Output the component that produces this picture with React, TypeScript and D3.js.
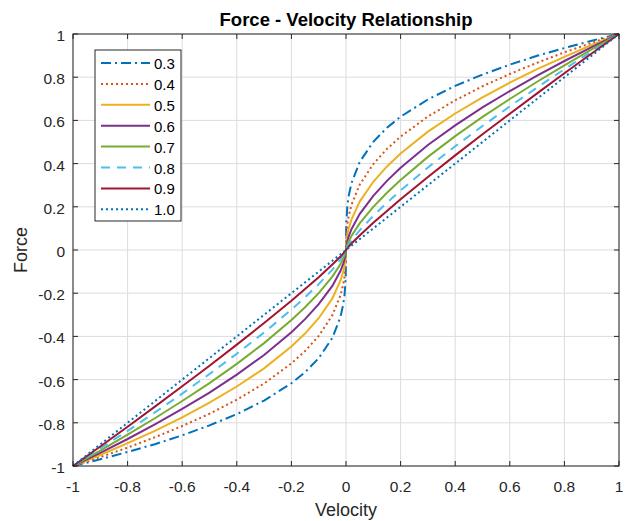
import React, { useEffect } from "react";
import * as d3 from "d3";

// velocity samples (denser near zero where the curves turn steep)
const velocity = [
  -1, -0.9, -0.8, -0.7, -0.6, -0.5, -0.4, -0.3, -0.2, -0.15, -0.1, -0.05, -0.02, -0.01, -0.005, -0.001,
  0,
  0.001, 0.005, 0.01, 0.02, 0.05, 0.1, 0.15, 0.2, 0.3, 0.4, 0.5, 0.6, 0.7, 0.8, 0.9, 1,
];

const force03 = [
  -1, -0.969, -0.935, -0.899, -0.858, -0.812, -0.76, -0.697, -0.617, -0.566, -0.501, -0.407, -0.309, -0.251, -0.204, -0.126,
  0,
  0.126, 0.204, 0.251, 0.309, 0.407, 0.501, 0.566, 0.617, 0.697, 0.76, 0.812, 0.858, 0.899, 0.935, 0.969, 1,
];
const force04 = [
  -1, -0.959, -0.915, -0.867, -0.815, -0.758, -0.693, -0.618, -0.525, -0.468, -0.398, -0.302, -0.209, -0.158, -0.12, -0.063,
  0,
  0.063, 0.12, 0.158, 0.209, 0.302, 0.398, 0.468, 0.525, 0.618, 0.693, 0.758, 0.815, 0.867, 0.915, 0.959, 1,
];
const force05 = [
  -1, -0.949, -0.894, -0.837, -0.775, -0.707, -0.632, -0.548, -0.447, -0.387, -0.316, -0.224, -0.141, -0.1, -0.071, -0.032,
  0,
  0.032, 0.071, 0.1, 0.141, 0.224, 0.316, 0.387, 0.447, 0.548, 0.632, 0.707, 0.775, 0.837, 0.894, 0.949, 1,
];
const force06 = [
  -1, -0.939, -0.875, -0.807, -0.736, -0.66, -0.577, -0.486, -0.381, -0.32, -0.251, -0.166, -0.096, -0.063, -0.042, -0.016,
  0,
  0.016, 0.042, 0.063, 0.096, 0.166, 0.251, 0.32, 0.381, 0.486, 0.577, 0.66, 0.736, 0.807, 0.875, 0.939, 1,
];
const force07 = [
  -1, -0.929, -0.855, -0.779, -0.699, -0.616, -0.527, -0.431, -0.324, -0.265, -0.2, -0.123, -0.065, -0.04, -0.024, -0.008,
  0,
  0.008, 0.024, 0.04, 0.065, 0.123, 0.2, 0.265, 0.324, 0.431, 0.527, 0.616, 0.699, 0.779, 0.855, 0.929, 1,
];
const force08 = [
  -1, -0.919, -0.837, -0.752, -0.665, -0.574, -0.48, -0.382, -0.276, -0.219, -0.158, -0.091, -0.044, -0.025, -0.014, -0.004,
  0,
  0.004, 0.014, 0.025, 0.044, 0.091, 0.158, 0.219, 0.276, 0.382, 0.48, 0.574, 0.665, 0.752, 0.837, 0.919, 1,
];
const force09 = [
  -1, -0.91, -0.818, -0.725, -0.631, -0.536, -0.438, -0.338, -0.235, -0.181, -0.126, -0.067, -0.03, -0.016, -0.008, -0.002,
  0,
  0.002, 0.008, 0.016, 0.03, 0.067, 0.126, 0.181, 0.235, 0.338, 0.438, 0.536, 0.631, 0.725, 0.818, 0.91, 1,
];
const force10 = [
  -1, -0.9, -0.8, -0.7, -0.6, -0.5, -0.4, -0.3, -0.2, -0.15, -0.1, -0.05, -0.02, -0.01, -0.005, -0.001,
  0,
  0.001, 0.005, 0.01, 0.02, 0.05, 0.1, 0.15, 0.2, 0.3, 0.4, 0.5, 0.6, 0.7, 0.8, 0.9, 1,
];

const seriesNames = ["0.3", "0.4", "0.5", "0.6", "0.7", "0.8", "0.9", "1.0"];
const seriesValues = [force03, force04, force05, force06, force07, force08, force09, force10];
const seriesColors = ["#0072BD", "#D95319", "#EDB120", "#7E2F8E", "#77AC30", "#4DBEEE", "#A2142F", "#0072BD"];
const seriesDashes = ["10,4,2,4", "2,3", "none", "none", "none", "9,7", "none", "2,3"];

const xTicks = [-1, -0.8, -0.6, -0.4, -0.2, 0, 0.2, 0.4, 0.6, 0.8, 1];
const yTicks = [-1, -0.8, -0.6, -0.4, -0.2, 0, 0.2, 0.4, 0.6, 0.8, 1];

const width = 627;
const height = 521;
const margin = { top: 34, right: 8, bottom: 55, left: 73 };
const font = "Arial, 'Liberation Sans', sans-serif";
const textColor = "#262626";

export default function App() {
  useEffect(() => {
    document.body.style.margin = "0";
  }, []);

  const x = d3.scaleLinear().domain([-1, 1]).range([margin.left, width - margin.right]);
  const y = d3.scaleLinear().domain([-1, 1]).range([height - margin.bottom, margin.top]);

  const line = d3
    .line<number>()
    .x((_, i) => x(velocity[i]))
    .y((d) => y(d));

  const x0 = x(-1);
  const x1 = x(1);
  const y0 = y(-1);
  const y1 = y(1);
  const tickLen = 5;

  return (
    <svg width={width} height={height} style={{ display: "block", background: "#fff" }} fontFamily={font}>
      {/* grid */}
      <g stroke="#dcdcdc" strokeWidth={1}>
        {xTicks.map((t) => (
          <line key={"gx" + t} x1={x(t)} x2={x(t)} y1={y1} y2={y0} />
        ))}
        {yTicks.map((t) => (
          <line key={"gy" + t} x1={x0} x2={x1} y1={y(t)} y2={y(t)} />
        ))}
      </g>

      {/* curves */}
      <g fill="none" strokeWidth={2}>
        {seriesValues.map((vals, i) => (
          <path
            key={seriesNames[i]}
            d={line(vals) ?? ""}
            stroke={seriesColors[i]}
            strokeDasharray={seriesDashes[i]}
          />
        ))}
      </g>

      {/* axes box + ticks */}
      <rect x={x0} y={y1} width={x1 - x0} height={y0 - y1} fill="none" stroke={textColor} strokeWidth={1} />
      <g stroke={textColor} strokeWidth={1}>
        {xTicks.map((t) => (
          <g key={"tx" + t}>
            <line x1={x(t)} x2={x(t)} y1={y0} y2={y0 - tickLen} />
            <line x1={x(t)} x2={x(t)} y1={y1} y2={y1 + tickLen} />
          </g>
        ))}
        {yTicks.map((t) => (
          <g key={"ty" + t}>
            <line x1={x0} x2={x0 + tickLen} y1={y(t)} y2={y(t)} />
            <line x1={x1} x2={x1 - tickLen} y1={y(t)} y2={y(t)} />
          </g>
        ))}
      </g>
      <g fill={textColor} fontSize={15.5}>
        {xTicks.map((t) => (
          <text key={"lx" + t} x={x(t)} y={y0 + 25.5} textAnchor="middle">
            {t}
          </text>
        ))}
        {yTicks.map((t) => (
          <text key={"ly" + t} x={x0 - 8} y={y(t) + 7} textAnchor="end">
            {t}
          </text>
        ))}
      </g>

      {/* labels */}
      <text x={(x0 + x1) / 2} y={26} textAnchor="middle" fontSize={18.5} fontWeight="bold" fill="#000">
        Force - Velocity Relationship
      </text>
      <text x={(x0 + x1) / 2} y={516} textAnchor="middle" fontSize={18} fill={textColor}>
        Velocity
      </text>
      <text
        transform={`translate(27,${(y0 + y1) / 2}) rotate(-90)`}
        textAnchor="middle"
        fontSize={18}
        fill={textColor}
      >
        Force
      </text>

      {/* legend */}
      <g transform="translate(95,50)">
        <rect width={86} height={171} fill="#fff" stroke={textColor} strokeWidth={1} />
        {seriesNames.map((name, i) => (
          <g key={"lg" + name} transform={`translate(0,${13 + i * 20.9})`}>
            <line
              x1={6}
              x2={55}
              y1={0}
              y2={0}
              stroke={seriesColors[i]}
              strokeWidth={2}
              strokeDasharray={seriesDashes[i]}
            />
            <text x={59} y={6} fontSize={15} fill="#000">
              {name}
            </text>
          </g>
        ))}
      </g>
    </svg>
  );
}
